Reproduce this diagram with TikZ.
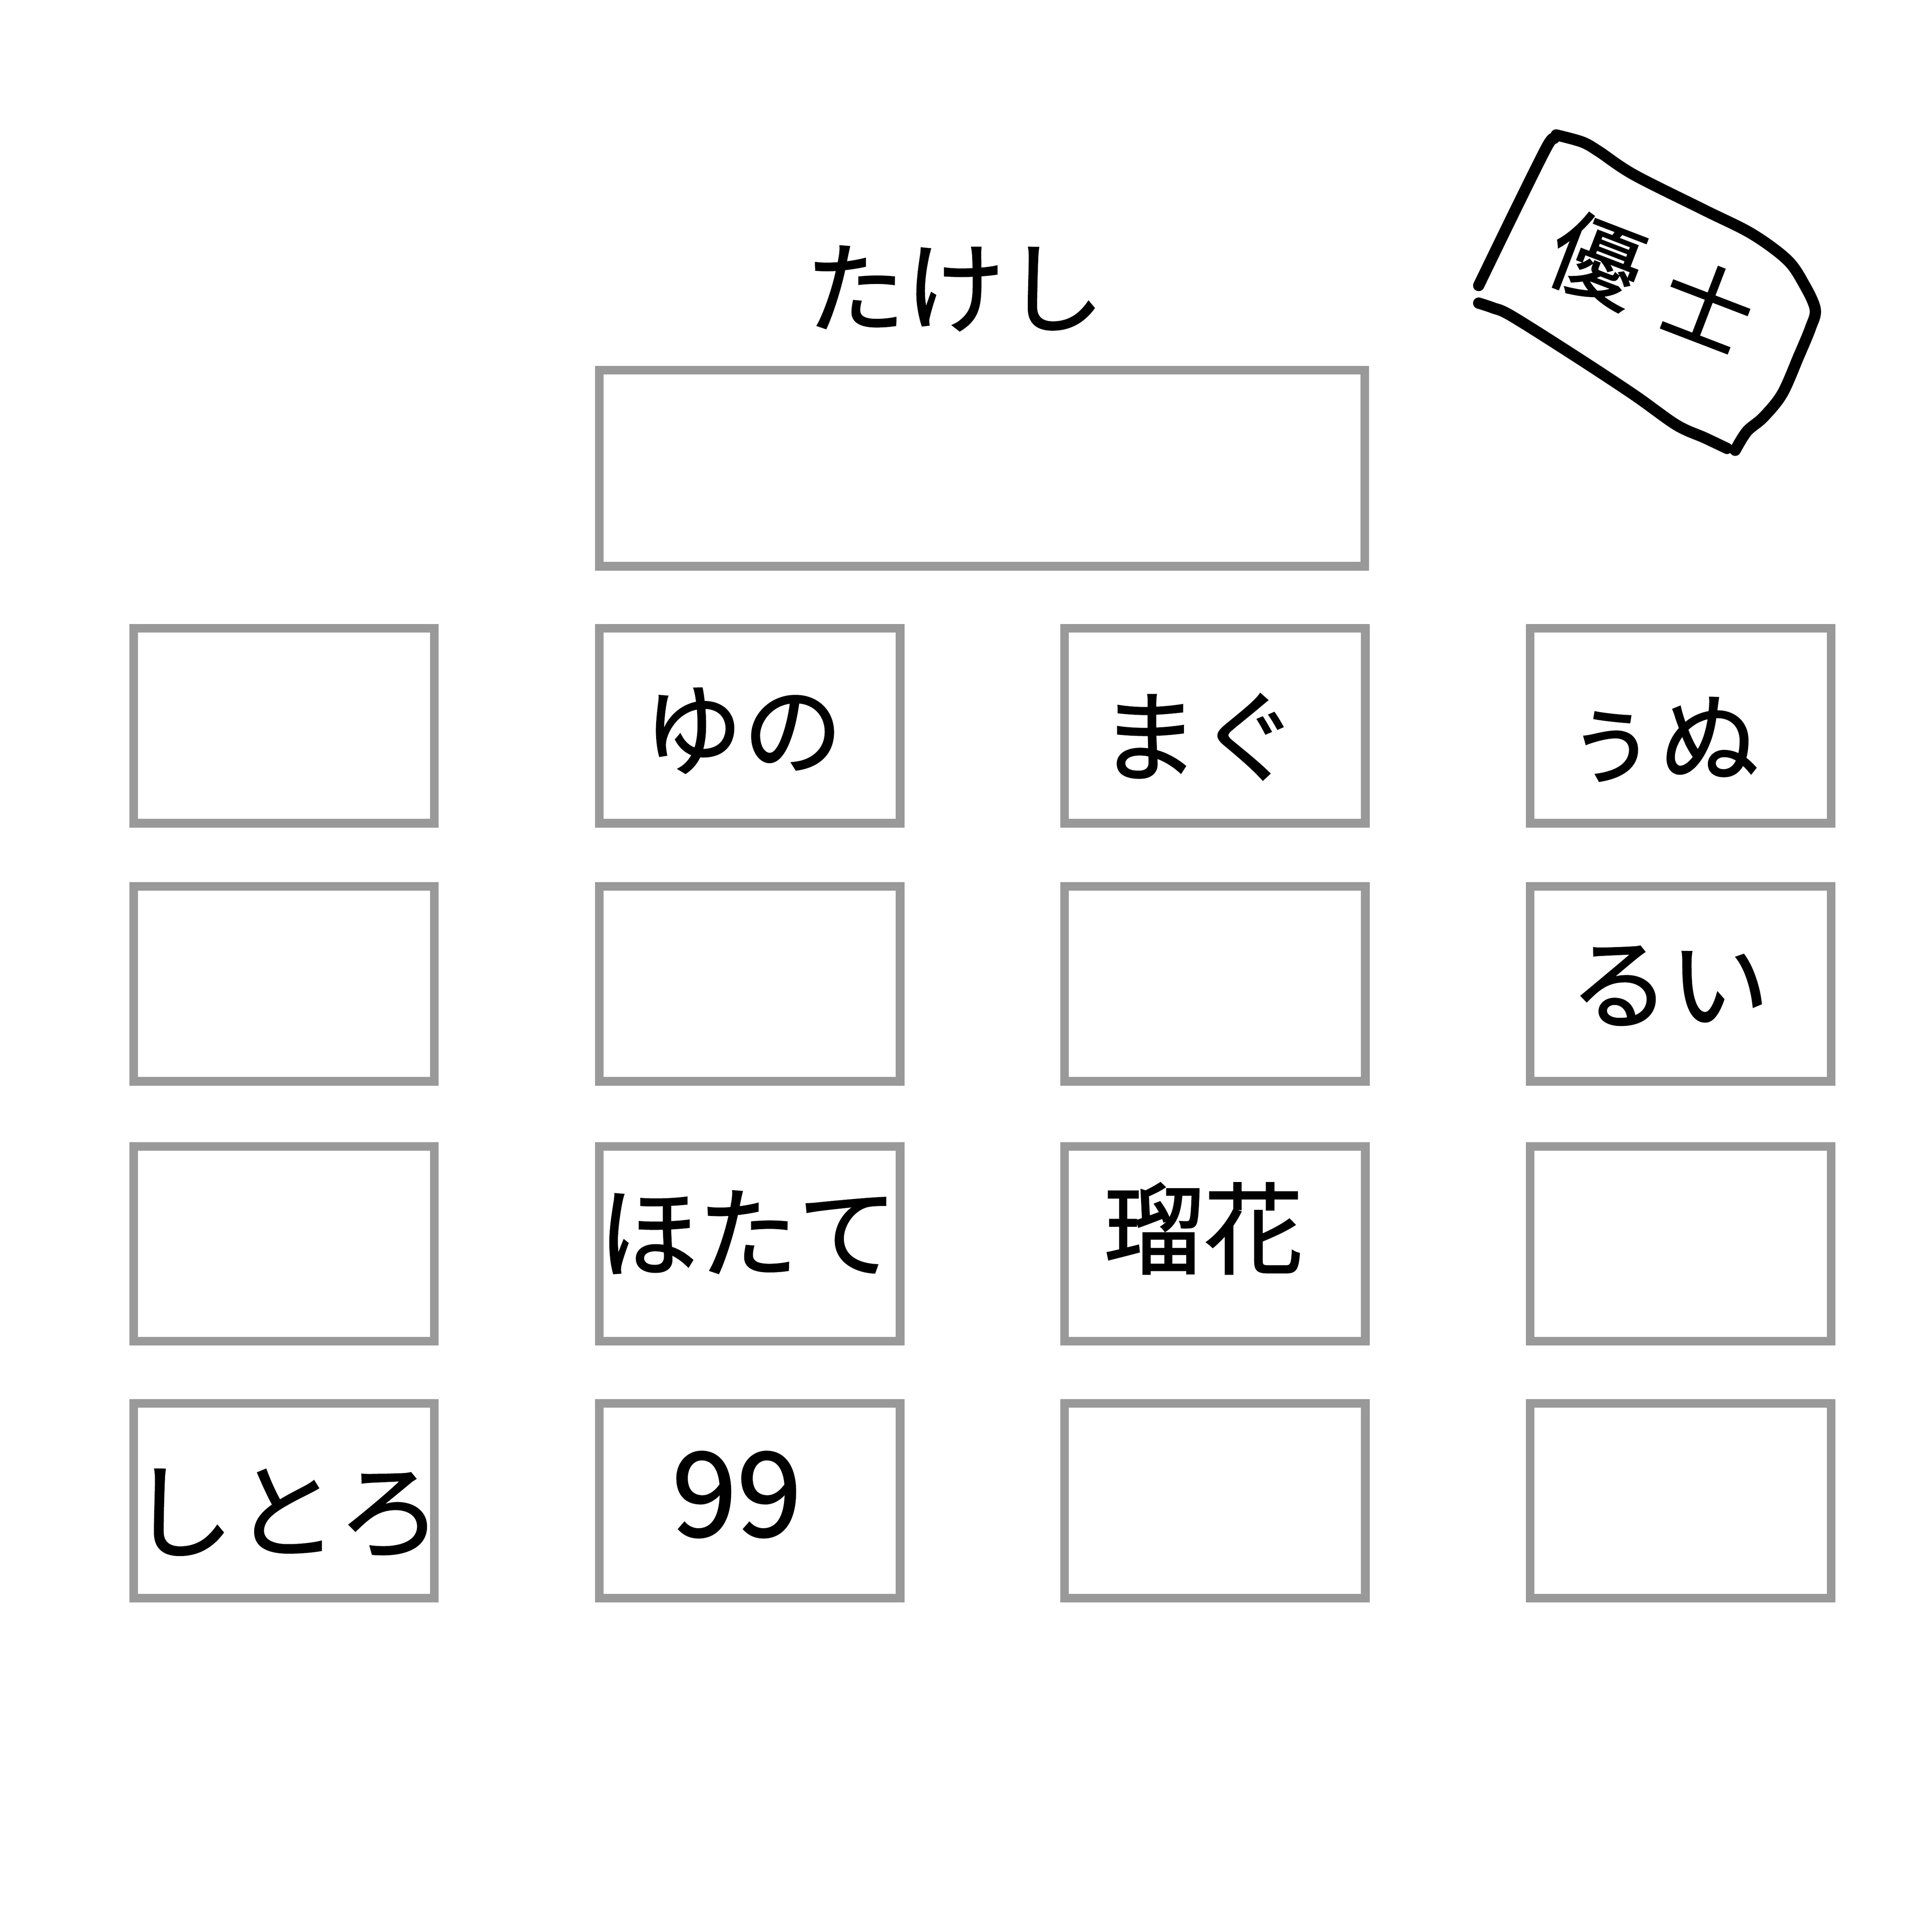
\documentclass[tikz,border=0pt]{standalone}
\usepackage{fontspec}
\newfontfamily\jp[FakeBold=1.2]{Noto Sans CJK JP}
\begin{document}
\begin{tikzpicture}[x=0.01cm,y=-0.01cm]
\tikzset{
  seat/.style={draw=black!40, line width=2pt, fill=white, rectangle,
    minimum width=2.44cm, minimum height=1.58cm, inner sep=0pt},
  lbl/.style={font=\jp\fontsize{23}{23}\selectfont, inner sep=0pt, anchor=center},
  notestroke/.style={line width=2.6pt, line cap=round, line join=round}
}
\useasboundingbox[fill=white] (0,0) rectangle (1568,1568);

% top desk
\node[seat, minimum width=6.21cm, minimum height=1.59cm] (top) at (797,380) {};
\node[lbl] (takeshi) at (775,234) {たけし};

% grid of desks
\node[seat] (a1) at (230.5,589) {};
\node[seat] (b1) at (608.5,589) {};
\node[seat] (c1) at (986,589) {};
\node[seat] (d1) at (1364,589) {};
\node[seat] (a2) at (230.5,798.5) {};
\node[seat] (b2) at (608.5,798.5) {};
\node[seat] (c2) at (986,798.5) {};
\node[seat] (d2) at (1364,798.5) {};
\node[seat] (a3) at (230.5,1009.5) {};
\node[seat] (b3) at (608.5,1009.5) {};
\node[seat] (c3) at (986,1009.5) {};
\node[seat] (d3) at (1364,1009.5) {};
\node[seat] (a4) at (230.5,1218) {};
\node[seat] (b4) at (608.5,1218) {};
\node[seat] (c4) at (986,1218) {};
\node[seat] (d4) at (1364,1218) {};

% labels
\node[lbl] (yuno) at (603,593) {ゆの};
\node[lbl] (magu) at (973,598) {まぐ};
\node[lbl] (unu) at (1347,600) {ぅぬ};
\node[lbl] (rui) at (1355,800) {るい};
\node[lbl] (hotate) at (607,1000) {ほたて};
\node[lbl] (ruka) at (977,997) {瑠花};
\node[lbl, font=\jp\fontsize{24}{24}\selectfont] (shitoro) at (232,1228) {しとろ};
\node[lbl, font=\jp\fontsize{27}{27}\selectfont] (qq) at (598,1213) {99};

% hand-drawn note
\draw[notestroke] plot[smooth, tension=0.55] coordinates {(1263,109.5) (1284,115.2) (1297.5,122.8) (1326.2,141.9) (1383.5,170.6) (1421.7,189.7) (1450.3,210.7) (1463.7,229.8) (1473.2,250.8) (1469.4,266.1) (1459.9,289) (1446.5,319.5) (1431.2,338.6) (1417.8,350.1) (1408.3,365.4)};
\draw[notestroke] plot[smooth, tension=0.55] coordinates {(1401.6,363.9) (1383.5,355.3) (1360.6,344.9) (1326.2,320.5) (1278.4,289) (1226.9,256.5) (1211.6,249.8) (1200.1,246)};
\draw[notestroke] plot[smooth, tension=0.55] coordinates {(1261.3,112.3) (1255.5,119) (1230.7,168.7) (1200.1,231.7)};
\node[lbl, font=\jp\fontsize{21}{21}\selectfont, rotate=-21] (yu) at (1296,211) {優};
\node[lbl, font=\jp\fontsize{21}{21}\selectfont, rotate=-21] (shi) at (1386,247) {士};
\end{tikzpicture}
\end{document}
